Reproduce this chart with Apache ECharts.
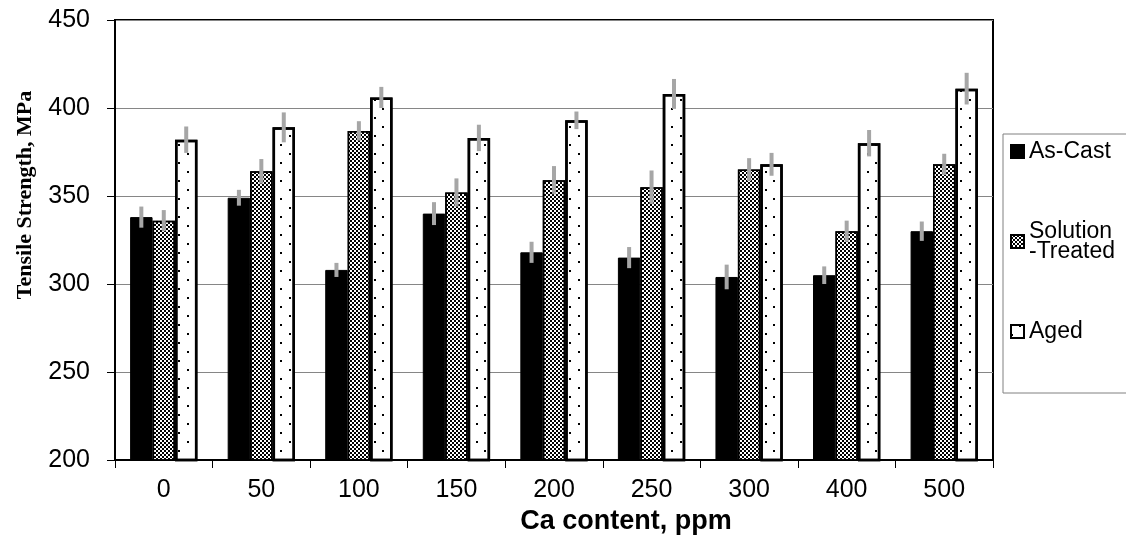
<!DOCTYPE html>
<html>
<head>
<meta charset="utf-8">
<script src="https://cdn.jsdelivr.net/npm/echarts@6/dist/echarts.min.js"></script>
<style>
html,body{margin:0;padding:0;background:#fff;}
#chart{width:1126px;height:541px;}
</style>
</head>
<body>
<div id="chart"></div>
<script>
const categories = ['0','50','100','150','200','250','300','400','500'];
const asCast = [338,349,308,340,318,315,304,305,330];
const solution = [336,364,387,352,359,355,365,330,368];
const aged = [382,389,406,383,393,408,368,380,411];
const asCastErr = [6,4.5,4,6.5,6,6,7,5,5.5];
const solutionErr = [6,7,5.5,8,8,9.5,6.5,6,6];
const agedErr = [7.5,8.5,6,7.5,5,8.5,6.5,7.5,9];
const seriesNames = ['As-Cast','Solution\n-Treated','Aged'];
const yTicks = [200,250,300,350,400,450];

const CAT_GAP = 0.31;
function errData(vals, errs){
  return vals.map((v,i)=>[i, v, errs[i]]);
}
function makeRender(si){
  return function(params, api){
    const x = api.value(0), v = api.value(1), e = api.value(2);
    const band = api.size([1,0])[0];
    const bw = band*(1-CAT_GAP)/3;
    const lo = api.coord([x, v-e]);
    const hi = api.coord([x, v+e]);
    const off = (si-1)*bw;
    return {type:'line', shape:{x1:lo[0]+off,y1:lo[1],x2:hi[0]+off,y2:hi[1]},
      style:{stroke:'#a6a6a6', lineWidth:4}};
  };
}

const chart = echarts.init(document.getElementById('chart'), null, {renderer:'canvas'});
chart.setOption({
  animation:false,
  backgroundColor:'#fff',
  grid:{left:115,right:133,top:20,bottom:81,show:true,borderColor:'#000',borderWidth:2,backgroundColor:'transparent'},
  legend:{
    orient:'vertical', left:1003, top:134,
    data:seriesNames.map(n=>({name:n, icon:'rect'})),
    itemWidth:13, itemHeight:13, itemGap:57,
    padding:[6,40,50,7],
    borderColor:'#808080', borderWidth:1, borderRadius:0,
    textStyle:{fontFamily:'Liberation Sans', fontSize:23, color:'#000', lineHeight:20}
  },
  xAxis:{
    type:'category', data:categories, boundaryGap:true,
    axisLine:{lineStyle:{color:'#000',width:2}},
    axisTick:{show:true,interval:0,length:8,lineStyle:{color:'#000',width:1}},
    axisLabel:{fontFamily:'Liberation Sans',fontSize:25,color:'#000',margin:18},
    name:'Ca content, ppm', nameLocation:'middle', nameGap:47,
    nameTextStyle:{fontFamily:'Liberation Sans',fontWeight:'bold',fontSize:27,color:'#000',padding:[0,0,0,144]}
  },
  yAxis:{
    type:'value', min:yTicks[0], max:yTicks[yTicks.length-1], interval:50,
    axisLine:{show:true,lineStyle:{color:'#000',width:2}},
    axisTick:{show:true,length:8,lineStyle:{color:'#000',width:1}},
    axisLabel:{fontFamily:'Liberation Sans',fontSize:25,color:'#000',margin:25},
    splitLine:{show:true,lineStyle:{color:'#868686',width:1}},
    name:'Tensile Strength, MPa', nameLocation:'middle', nameGap:79,
    nameTextStyle:{fontFamily:'Liberation Serif',fontWeight:'bold',fontSize:22,color:'#000',padding:[0,0,0,90]}
  },
  series:[
    {name:seriesNames[0], type:'bar', data:asCast, barGap:'0%', barCategoryGap:(CAT_GAP*100)+'%',
     itemStyle:{color:'#000',borderColor:'#000',borderWidth:1}},
    {name:seriesNames[1], type:'bar', data:solution, barGap:'0%', barCategoryGap:(CAT_GAP*100)+'%',
     itemStyle:{color:'#fff',borderColor:'#000',borderWidth:1.5,
       decal:{symbol:'rect',symbolSize:1,color:'#000',dashArrayX:[[2,2],[0,2,2,0]],dashArrayY:[2,0],rotation:0}}},
    {name:seriesNames[2], type:'bar', data:aged, barGap:'0%', barCategoryGap:(CAT_GAP*100)+'%',
     itemStyle:{color:'#fff',borderColor:'#000',borderWidth:2.5,
       decal:{symbol:'rect',symbolSize:1,color:'#000',dashArrayX:[[2,15],[0,8,2,7]],dashArrayY:[2,7],rotation:0}}},
    {name:'err0', type:'custom', renderItem:makeRender(0), data:errData(asCast,asCastErr), z:5, silent:true},
    {name:'err1', type:'custom', renderItem:makeRender(1), data:errData(solution,solutionErr), z:5, silent:true},
    {name:'err2', type:'custom', renderItem:makeRender(2), data:errData(aged,agedErr), z:5, silent:true}
  ]
});
</script>
</body>
</html>
